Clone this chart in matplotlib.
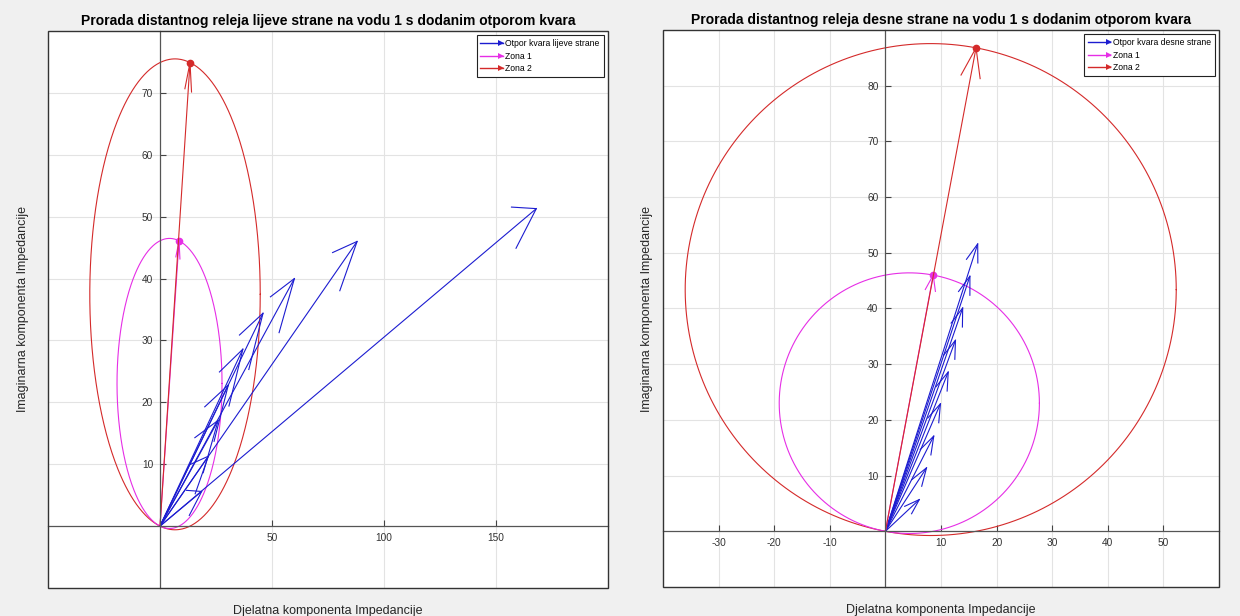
import numpy as np
import matplotlib
matplotlib.use('Agg')
import matplotlib.pyplot as plt
from matplotlib.lines import Line2D
from matplotlib.patches import Rectangle
from matplotlib.legend_handler import HandlerBase

plt.rcParams['font.family'] = ['Liberation Sans', 'DejaVu Sans']
plt.rcParams['axes.unicode_minus'] = False

# impedance of zone settings (R, X)
z1_left = (8.5, 46.1)
z2_left = (13.4, 74.9)
z1_right = (8.6, 46.0)
z2_right = (16.3, 86.8)

# fault impedance seen by relay with added fault resistance
rf_left_r = [18.6, 21.6, 26.0, 30.5, 37.0, 46.0, 60.0, 88.0, 168.0]
rf_left_x = [5.6, 11.3, 17.1, 22.8, 28.6, 34.4, 40.0, 46.0, 51.3]
rf_right_r = [6.1, 7.4, 8.7, 9.9, 11.3, 12.6, 13.9, 15.2, 16.6]
rf_right_x = [5.7, 11.4, 17.1, 22.9, 28.6, 34.3, 40.1, 45.8, 51.6]

titles = ['Prorada distantnog releja lijeve strane na vodu 1 s dodanim otporom kvara',
          'Prorada distantnog releja desne strane na vodu 1 s dodanim otporom kvara']
legend_labels = [['Otpor kvara lijeve strane', 'Zona 1', 'Zona 2'],
                 ['Otpor kvara desne strane', 'Zona 1', 'Zona 2']]

BLUE = '#1c1cd0'
MAG = '#e62ee6'
RED = '#d42a2a'
LW = 0.8


def quiver_lines(ax, xs, ys, color):
    # matlab style quiver from the origin, open arrow heads
    xs = np.asarray(xs, float)
    ys = np.asarray(ys, float)
    lens = np.hypot(xs, ys)
    al = np.minimum(0.33, 0.06 * lens.max() / lens)
    b = 0.33
    for x, y, a in zip(xs, ys, al):
        ax.plot([0, x], [0, y], color=color, lw=LW)
        ax.plot([x - a * (x + b * y), x, x - a * (x - b * y)],
                [y - a * (y - b * x), y, y - a * (y + b * x)], color=color, lw=LW)


def mho(ax, z, color):
    t = np.linspace(0, 2 * np.pi, 500)
    c = np.array(z) / 2.0
    r = np.hypot(*z) / 2.0
    ax.plot(c[0] + r * np.cos(t), c[1] + r * np.sin(t), color=color, lw=LW)


class ArrowHandler(HandlerBase):
    def create_artists(self, legend, orig, xd, yd, w, h, fs, trans):
        y = (h - yd) / 2.0
        col = orig.get_color()
        ln = Line2D([-xd, -xd + w], [y, y], color=col, lw=1.0, transform=trans)
        hd = Line2D([-xd + w - 1], [y], color=col, marker='>', markersize=3.8,
                    markeredgewidth=0, transform=trans)
        return [ln, hd]


fig = plt.figure(figsize=(12.4, 6.16), dpi=100, facecolor='#f0f0f0')
ax1 = fig.add_axes([48 / 1240, 28 / 616, 560 / 1240, 557 / 616])
ax2 = fig.add_axes([663 / 1240, 29 / 616, 556 / 1240, 557 / 616])

setups = [
    (ax1, z1_left, z2_left, rf_left_r, rf_left_x, (-50, 200), (-10, 80),
     [50, 100, 150], list(range(10, 80, 10)), -0.034),
    (ax2, z1_right, z2_right, rf_right_r, rf_right_x, (-40, 60), (-10, 90),
     [-30, -20, -10, 10, 20, 30, 40, 50], list(range(10, 90, 10)), -0.018),
]

for i, (ax, z1, z2, rr, rx, xl, yl, xt, yt, ylab_x) in enumerate(setups):
    ax.set_facecolor('white')
    mho(ax, z2, RED)
    mho(ax, z1, MAG)
    quiver_lines(ax, rr, rx, BLUE)
    quiver_lines(ax, [z1[0]], [z1[1]], MAG)
    ax.plot([z1[0]], [z1[1]], 'o', color=MAG, ms=4.5, mec=MAG)
    quiver_lines(ax, [z2[0]], [z2[1]], RED)
    ax.plot([z2[0]], [z2[1]], 'o', color=RED, ms=4.5, mec=RED)

    ax.set_xlim(*xl)
    ax.set_ylim(*yl)
    ax.set_xticks(xt)
    ax.set_yticks(yt)
    ax.grid(True, color='#e3e3e3', lw=0.8)
    ax.set_axisbelow(True)

    for s in ['top', 'right']:
        ax.spines[s].set_visible(False)
    for s in ['left', 'bottom']:
        ax.spines[s].set_position(('data', 0))
        ax.spines[s].set_color('#555555')
        ax.spines[s].set_linewidth(0.9)
    ax.add_patch(Rectangle((0, 0), 1, 1, transform=ax.transAxes, fill=False,
                           ec='#333333', lw=1.0, clip_on=False, zorder=5))
    ax.tick_params(direction='in', length=4, width=0.8, color='#444444',
                   labelsize=7.3, labelcolor='#333333', pad=5)

    ax.set_title(titles[i], fontsize=10, fontweight='bold', pad=4)
    ax.set_xlabel('Djelatna komponenta Impedancije', fontsize=9, color='#262626')
    ax.xaxis.set_label_coords(0.5, -0.03)
    ax.set_ylabel('Imaginarna komponenta Impedancije', fontsize=9, color='#262626')
    ax.yaxis.set_label_coords(ylab_x, 0.5)

    handles = [Line2D([], [], color=BLUE), Line2D([], [], color=MAG), Line2D([], [], color=RED)]
    leg = ax.legend(handles, legend_labels[i], loc='upper right', fontsize=6.2,
                    handler_map={Line2D: ArrowHandler()}, fancybox=False,
                    edgecolor='#222222', framealpha=1, borderaxespad=0.5,
                    handlelength=2.6, handletextpad=0.3, labelspacing=0.4,
                    borderpad=0.45)
    leg.get_frame().set_linewidth(0.8)

fig.savefig('out.png', dpi=100, facecolor=fig.get_facecolor())
